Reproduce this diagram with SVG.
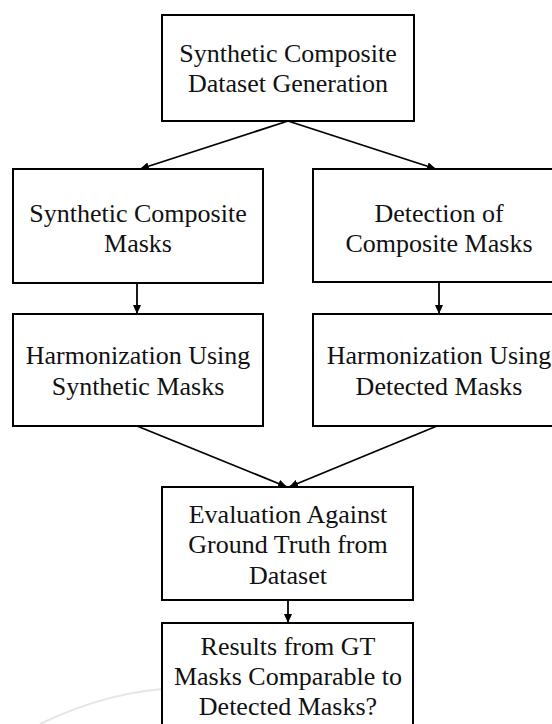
<svg xmlns="http://www.w3.org/2000/svg" width="552" height="724" viewBox="0 0 552 724">
<style>
.box{fill:#fff;stroke:#000;stroke-width:2}
.t{font-family:"Liberation Serif","Times New Roman",serif;font-size:26px;fill:#111;text-anchor:middle}
.c{fill:none;stroke:#000;stroke-width:1.8}
</style>
<defs>
<marker id="ah" markerUnits="userSpaceOnUse" markerWidth="10" markerHeight="8" refX="9" refY="4" orient="auto">
<path d="M0,0 L9,4 L0,8 z" fill="#000"/>
</marker>
</defs>
<rect width="552" height="724" fill="#fff"/>
<path d="M40 724 Q110 690 180 688" fill="none" stroke="#e6e6e6" stroke-width="2"/>
<g id="connectors">
<line class="c" x1="288" y1="121" x2="140" y2="169" marker-end="url(#ah)"/>
<line class="c" x1="288" y1="121" x2="436" y2="169" marker-end="url(#ah)"/>
<line class="c" x1="137" y1="283" x2="137" y2="314" marker-end="url(#ah)"/>
<line class="c" x1="439" y1="282" x2="439" y2="314" marker-end="url(#ah)"/>
<line class="c" x1="137" y1="426" x2="287" y2="487" marker-end="url(#ah)"/>
<line class="c" x1="437" y1="426" x2="289" y2="487" marker-end="url(#ah)"/>
<line class="c" x1="288" y1="600" x2="288" y2="623" marker-end="url(#ah)"/>
</g>
<g id="n1">
<rect class="box" x="162" y="15" width="252" height="106"/>
<text class="t" x="288" y="62">Synthetic Composite</text>
<text class="t" x="288" y="92">Dataset Generation</text>
</g>
<g id="n2">
<rect class="box" x="13" y="169" width="250" height="114"/>
<text class="t" x="138" y="222">Synthetic Composite</text>
<text class="t" x="138" y="252">Masks</text>
</g>
<g id="n3">
<rect class="box" x="313" y="169" width="252" height="113"/>
<text class="t" x="439" y="222">Detection of</text>
<text class="t" x="439" y="252">Composite Masks</text>
</g>
<g id="n4">
<rect class="box" x="13" y="314" width="250" height="112"/>
<text class="t" x="138" y="364">Harmonization Using</text>
<text class="t" x="138" y="395">Synthetic Masks</text>
</g>
<g id="n5">
<rect class="box" x="313" y="314" width="252" height="112"/>
<text class="t" x="439" y="364">Harmonization Using</text>
<text class="t" x="439" y="395">Detected Masks</text>
</g>
<g id="n6">
<rect class="box" x="162" y="487" width="251" height="113"/>
<text class="t" x="288" y="523">Evaluation Against</text>
<text class="t" x="288" y="553">Ground Truth from</text>
<text class="t" x="288" y="584">Dataset</text>
</g>
<g id="n7">
<rect class="box" x="162" y="623" width="251" height="120"/>
<text class="t" x="288" y="655">Results from GT</text>
<text class="t" x="288" y="685">Masks Comparable to</text>
<text class="t" x="288" y="715">Detected Masks?</text>
</g>
</svg>
